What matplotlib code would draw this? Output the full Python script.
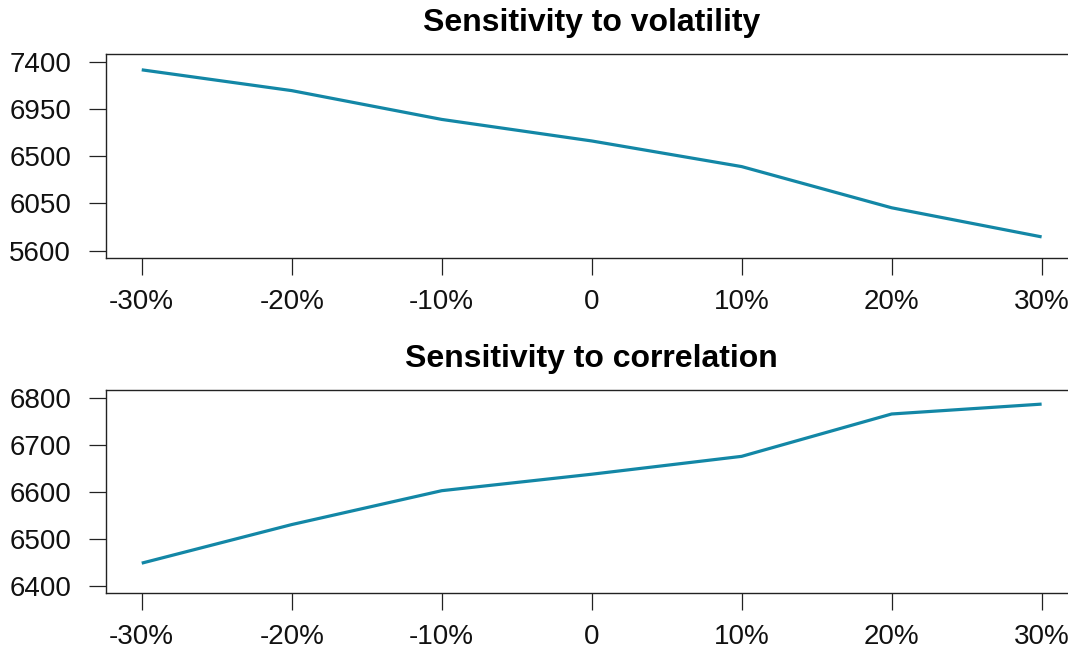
import matplotlib.pyplot as plt

# shift applied to the input, in percent
shifts = [-30, -20, -10, 0, 10, 20, 30]
shift_labels = ['-30%', '-20%', '-10%', '0', '10%', '20%', '30%']

# price under each shift
vol_price = [7322, 7124, 6850, 6645, 6401, 6009, 5732]
corr_price = [6448, 6530, 6602, 6637, 6675, 6765, 6786]

vol_ticks = [5600, 6050, 6500, 6950, 7400]
corr_ticks = [6400, 6500, 6600, 6700, 6800]

line_col = '#1387A6'

plt.rcParams['font.family'] = ['Liberation Sans', 'DejaVu Sans']

fig = plt.figure(figsize=(10.68, 6.6), dpi=100)
ax1 = fig.add_axes([0.099, 0.6086, 0.910, 0.3095])
ax2 = fig.add_axes([0.099, 0.1011, 0.910, 0.3080])


def sens_panel(ax, y, yticks, title):
    ax.plot(shifts, y, color=line_col, lw=2.3, solid_capstyle='butt')
    # R-style 4% padding around the fixed limits
    xr = shifts[-1] - shifts[0]
    ax.set_xlim(shifts[0] - 0.04 * xr, shifts[-1] + 0.04 * xr)
    yr = yticks[-1] - yticks[0]
    ax.set_ylim(yticks[0] - 0.04 * yr, yticks[-1] + 0.04 * yr)
    ax.set_xticks(shifts)
    ax.set_xticklabels(shift_labels)
    ax.set_yticks(yticks)
    ax.tick_params(axis='both', direction='out', length=12, width=0.9,
                   labelsize=20, color='#222222', labelcolor='#111111')
    ax.tick_params(axis='x', pad=10)
    ax.tick_params(axis='y', pad=13)
    for s in ax.spines.values():
        s.set_linewidth(1.0)
        s.set_color('#222222')
    ax.spines['right'].set_visible(False)
    ax.set_title(title, fontsize=23, fontweight='bold', pad=16.5)


sens_panel(ax1, vol_price, vol_ticks, 'Sensitivity to volatility')
sens_panel(ax2, corr_price, corr_ticks, 'Sensitivity to correlation')

fig.savefig('out.png', dpi=100)
